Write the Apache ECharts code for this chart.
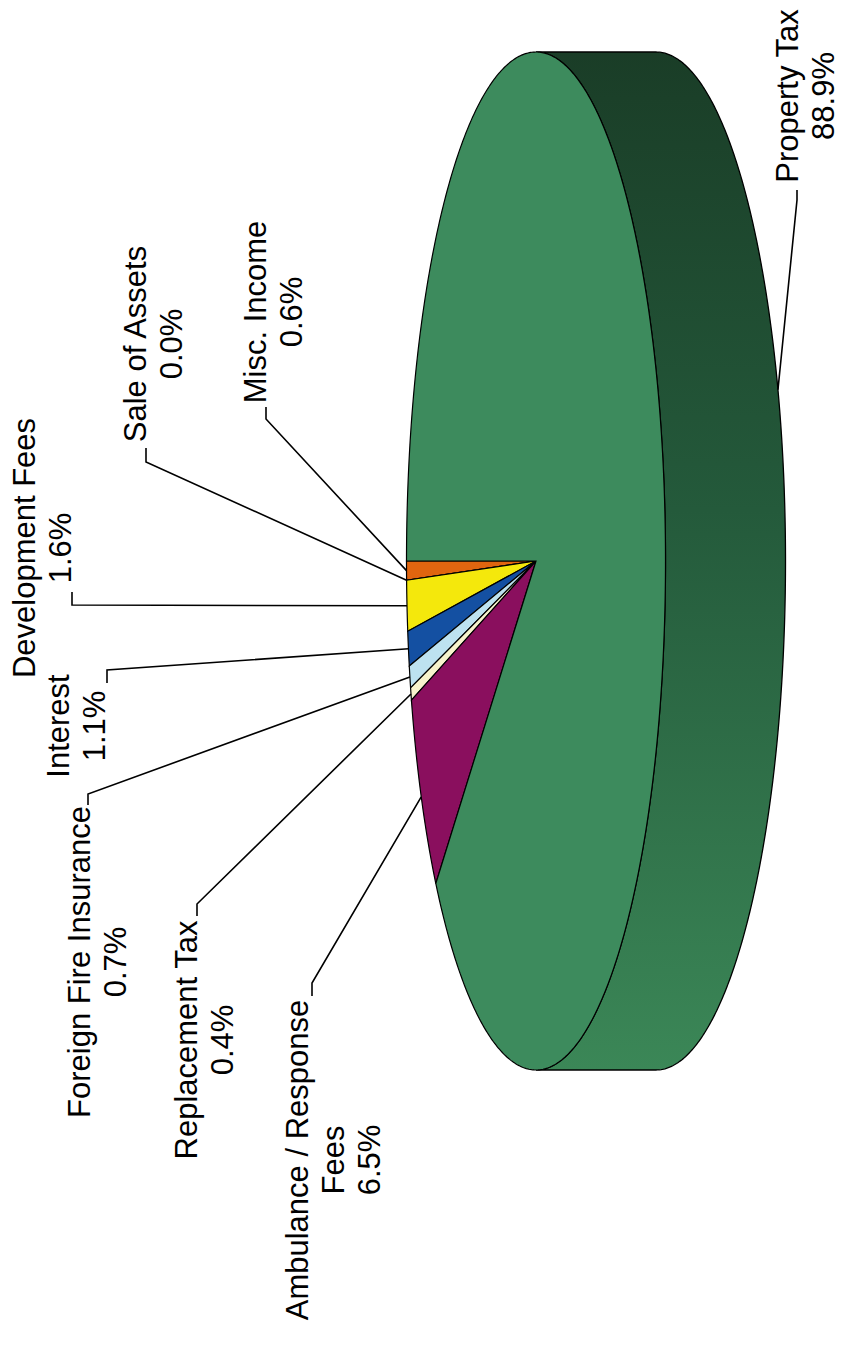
<!DOCTYPE html>
<html>
<head>
<meta charset="utf-8">
<script src="https://cdn.jsdelivr.net/npm/echarts@6/dist/echarts.min.js"></script>
<style>
  html, body { margin: 0; padding: 0; background: #fff; }
  #main { width: 846px; height: 1347px; }
</style>
</head>
<body>
<div id="main"></div>
<script>
// slices in drawing order, starting at the left edge and going down
const names = ['Misc. Income', 'Sale of Assets', 'Development Fees', 'Interest',
  'Foreign Fire Insurance', 'Replacement Tax', 'Ambulance / Response\nFees', 'Property Tax'];
const values = [0.6, 0.0, 1.6, 1.1, 0.7, 0.4, 6.5, 88.9];

// styles / layout (kept apart from the data)
const colors = ['#e0650f', '#7aa82c', '#f4e80c', '#1450a2', '#bde2f0', '#f7f3cc', '#8a0f5e', '#3d8b5d'];
// text centre x,y, label end x,y, bend x,y
const labelPos = [
  [273, 312, 266, 407, 266, 419],
  [153, 344, 146, 448, 146, 462],
  [42, 548, 72, 592, 72, 605],
  [76, 726, 107, 683, 107, 670],
  [97, 962, 88, 805, 88, 794],
  [204, 1040, 197, 916, 197, 904],
  [333, 1160, 312, 996, 312, 983],
  [805, 96, 797, 190, 797, 200]
];

const cx = 536, cy = 561, rx = 129.5, ry = 509, depth = 120;
const shift = depth / rx;

const total = values.reduce((a, b) => a + b, 0);
let acc = 0;
const sliceData = values.map((v, i) => {
  const s = acc;
  acc += v / total;
  return [s, acc, v, i];
});

function arc(api, a0, a1, dx) {
  const pts = [];
  const n = Math.max(2, Math.ceil(Math.abs(a1 - a0) / 0.01));
  for (let k = 0; k <= n; k++) {
    const t = a0 + (a1 - a0) * k / n;
    pts.push(api.coord([Math.cos(t) + dx, Math.sin(t)]));
  }
  return pts;
}

function renderItem(params, api) {
  const s = api.value(0), e = api.value(1), v = api.value(2), i = api.value(3);
  const t0 = Math.PI + 2 * Math.PI * s;
  const t1 = Math.PI + 2 * Math.PI * e;
  const children = [];

  // visible side wall (right half of the rim)
  const a0 = Math.max(t0, 1.5 * Math.PI), a1 = Math.min(t1, 2.5 * Math.PI);
  let sideVisible = false;
  if (a1 > a0) {
    sideVisible = true;
    const pts = arc(api, a0, a1, 0).concat(arc(api, a1, a0, shift));
    children.push({
      type: 'polygon',
      shape: { points: pts },
      style: {
        fill: {
          type: 'linear', x: 0, y: 0, x2: 0, y2: 1,
          colorStops: [
            { offset: 0, color: '#1a3d27' },
            { offset: 0.45, color: '#245a3b' },
            { offset: 1, color: '#3b8757' }
          ]
        },
        stroke: '#000', lineWidth: 1.3
      }
    });
  }

  // top face
  const top = [api.coord([0, 0])].concat(arc(api, t0, t1, 0));
  children.push({
    type: 'polygon',
    shape: { points: top },
    style: { fill: colors[i], stroke: '#000', lineWidth: 1.2 }
  });

  // leader line + label
  const tm = (t0 + t1) / 2;
  const anchor = api.coord([Math.cos(tm) + (sideVisible ? shift : 0), Math.sin(tm)]);
  const p = labelPos[i];
  children.push({
    type: 'polyline',
    shape: { points: [anchor, [p[4], p[5]], [p[2], p[3]]] },
    style: { fill: null, stroke: '#000', lineWidth: 1.6 }
  });
  children.push({
    type: 'text',
    x: p[0], y: p[1],
    rotation: Math.PI / 2,
    style: {
      text: names[i] + '\n' + v.toFixed(1) + '%',
      fontFamily: 'Liberation Sans, Arial, sans-serif',
      fontSize: 31,
      lineHeight: 36,
      fill: '#000',
      align: 'center',
      verticalAlign: 'middle'
    }
  });
  return { type: 'group', children: children };
}

const chart = echarts.init(document.getElementById('main'), null, { renderer: 'svg' });
chart.setOption({
  animation: false,
  backgroundColor: '#fff',
  grid: { left: cx - rx, top: cy - ry, width: 2 * rx + depth, height: 2 * ry },
  xAxis: { type: 'value', min: -1, max: 1 + shift, show: false },
  yAxis: { type: 'value', min: -1, max: 1, show: false },
  series: [{
    type: 'custom',
    renderItem: renderItem,
    clip: false,
    data: sliceData
  }]
});
</script>
</body>
</html>
